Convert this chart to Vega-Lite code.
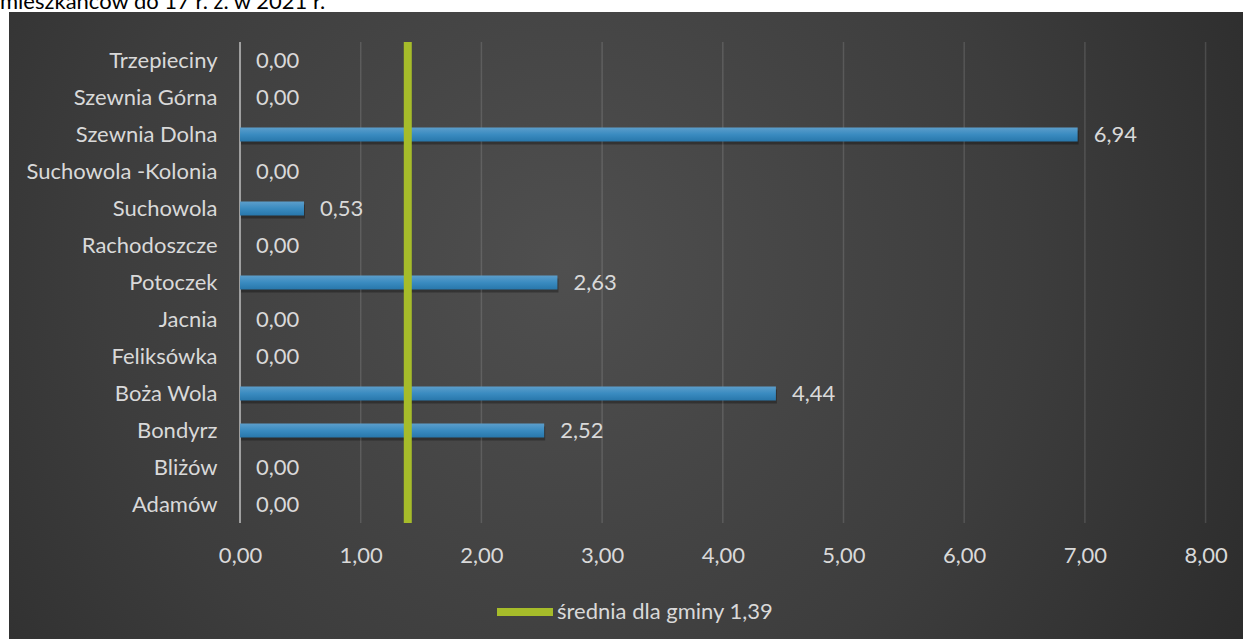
{
  "$schema": "https://vega.github.io/schema/vega-lite/v6.json",
  "width": 1234,
  "height": 627,
  "autosize": {"type": "none"},
  "padding": {"left": 9, "top": 12, "right": 0, "bottom": 0},
  "background": "#ffffff",
  "title": {
    "text": "mieszkańców do 17 r. ż. w 2021 r.",
    "anchor": "start",
    "frame": "group",
    "orient": "top",
    "offset": 3,
    "dx": -9,
    "dy": 22,
    "baseline": "alphabetic",
    "font": "Lato",
    "fontSize": 22,
    "fontWeight": "normal",
    "color": "#000000"
  },
  "config": {
    "locale": {"number": {"decimal": ",", "thousands": " ", "grouping": [3], "currency": ["", " zł"]}},
    "view": {
      "stroke": null,
      "fill": {
        "gradient": "radial",
        "x1": 0.45, "y1": 0.45, "r1": 0,
        "x2": 0.45, "y2": 0.45, "r2": 0.75,
        "stops": [
          {"offset": 0, "color": "#4f4f4f"},
          {"offset": 0.5, "color": "#3d3d3d"},
          {"offset": 1, "color": "#242424"}
        ]
      }
    },
    "font": "Lato"
  },
  "datasets": {
    "vals": [
      {"wies": "Trzepieciny", "wartosc": 0},
      {"wies": "Szewnia Górna", "wartosc": 0},
      {"wies": "Szewnia Dolna", "wartosc": 6.94},
      {"wies": "Suchowola -Kolonia", "wartosc": 0},
      {"wies": "Suchowola", "wartosc": 0.53},
      {"wies": "Rachodoszcze", "wartosc": 0},
      {"wies": "Potoczek", "wartosc": 2.63},
      {"wies": "Jacnia", "wartosc": 0},
      {"wies": "Feliksówka", "wartosc": 0},
      {"wies": "Boża Wola", "wartosc": 4.44},
      {"wies": "Bondyrz", "wartosc": 2.52},
      {"wies": "Bliżów", "wartosc": 0},
      {"wies": "Adamów", "wartosc": 0}
    ],
    "grid": [{"t": 1}, {"t": 2}, {"t": 3}, {"t": 4}, {"t": 5}, {"t": 6}, {"t": 7}, {"t": 8}],
    "axis0": [{"t": 0}],
    "mean": [{"seria": "średnia dla gminy 1,39", "srednia": 1.39}]
  },
  "layer": [
    {
      "data": {"name": "vals"},
      "mark": {"type": "bar", "size": 14, "color": "#000000", "opacity": 0.3, "yOffset": 3, "xOffset": 1},
      "encoding": {
        "x": {
          "field": "wartosc",
          "type": "quantitative",
          "scale": {"domain": [-1.914, 8.31], "nice": false, "zero": false},
          "axis": {
            "values": [0, 1, 2, 3, 4, 5, 6, 7, 8],
            "format": ".2f",
            "orient": "bottom",
            "offset": -116,
            "title": null,
            "domain": false,
            "ticks": false,
            "tickSize": 0,
            "grid": false,
            "labelPadding": 22,
            "labelFontSize": 22,
            "labelColor": "#d9d9d9",
            "labelFont": "Lato"
          }
        },
        "y": {
          "field": "wies",
          "type": "nominal",
          "sort": null,
          "scale": {
            "domain": ["Trzepieciny", "Szewnia Górna", "Szewnia Dolna", "Suchowola -Kolonia", "Suchowola", "Rachodoszcze", "Potoczek", "Jacnia", "Feliksówka", "Boża Wola", "Bondyrz", "Bliżów", "Adamów"],
            "range": [30, 511],
            "paddingInner": 0,
            "paddingOuter": 0
          },
          "axis": {
            "orient": "left",
            "offset": -231,
            "title": null,
            "domain": false,
            "ticks": false,
            "tickSize": 0,
            "grid": false,
            "labelPadding": 23,
            "labelFontSize": 22,
            "labelColor": "#d9d9d9",
            "labelFont": "Lato",
            "labelLimit": 400
          }
        }
      }
    },
    {
      "data": {"name": "grid"},
      "mark": {"type": "rule", "stroke": "#ffffff", "strokeOpacity": 0.13, "strokeWidth": 1.5},
      "encoding": {
        "x": {"field": "t", "type": "quantitative"},
        "y": {"datum": "Trzepieciny", "bandPosition": 0},
        "y2": {"datum": "Adamów", "bandPosition": 1}
      }
    },
    {
      "data": {"name": "axis0"},
      "mark": {"type": "rule", "stroke": "#a0a0a0", "strokeWidth": 2},
      "encoding": {
        "x": {"field": "t", "type": "quantitative"},
        "y": {"datum": "Trzepieciny", "bandPosition": 0},
        "y2": {"datum": "Adamów", "bandPosition": 1}
      }
    },
    {
      "data": {"name": "vals"},
      "mark": {
        "type": "bar",
        "size": 14,
        "color": {
          "gradient": "linear",
          "x1": 0, "y1": 0, "x2": 0, "y2": 1,
          "stops": [
            {"offset": 0, "color": "#5c9ecb"},
            {"offset": 0.5, "color": "#3a8bc0"},
            {"offset": 1, "color": "#2877ab"}
          ]
        }
      },
      "encoding": {
        "x": {"field": "wartosc", "type": "quantitative"},
        "y": {"field": "wies", "type": "nominal", "sort": null}
      }
    },
    {
      "data": {"name": "vals"},
      "mark": {"type": "text", "align": "left", "baseline": "middle", "dx": 16, "fontSize": 22, "color": "#d9d9d9", "font": "Lato"},
      "encoding": {
        "x": {"field": "wartosc", "type": "quantitative"},
        "y": {"field": "wies", "type": "nominal", "sort": null},
        "text": {"field": "wartosc", "type": "quantitative", "format": ".2f"}
      }
    },
    {
      "data": {"name": "mean"},
      "mark": {"type": "rule", "strokeWidth": 8},
      "encoding": {
        "x": {"field": "srednia", "type": "quantitative"},
        "y": {"datum": "Trzepieciny", "bandPosition": 0},
        "y2": {"datum": "Adamów", "bandPosition": 1},
        "color": {
          "field": "seria",
          "type": "nominal",
          "scale": {"range": ["#a6bc2a"]},
          "legend": {
            "title": null,
            "orient": "none",
            "legendX": 484,
            "legendY": 568,
            "symbolType": "stroke",
            "symbolSize": 3136,
            "symbolStrokeWidth": 8,
            "labelFontSize": 22,
            "labelColor": "#d9d9d9",
            "labelFont": "Lato",
            "labelOffset": 0,
            "labelLimit": 500
          }
        }
      }
    }
  ]
}
